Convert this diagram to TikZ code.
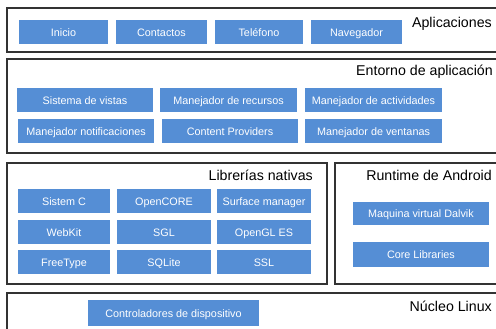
\documentclass[tikz,border=0pt]{standalone}
\usepackage{fontspec}
\setmainfont{Liberation Sans}
\definecolor{btn}{HTML}{558ED5}
\definecolor{frame}{HTML}{333333}
\begin{document}
\begin{tikzpicture}[x=1pt,y=-1pt,
  layer/.style={draw=frame,line width=1.3pt,fill=white},
  btnbox/.style={fill=btn,draw=none,text=white,font=\fontsize{10.8}{12}\selectfont,text height=0.85em,text depth=0em,inner sep=0pt},
  ttl/.style={font=\fontsize{14.2}{15}\selectfont,text=black,inner sep=0pt,text height=0.8em,text depth=0em}]
\useasboundingbox (0,0) rectangle (496,329);
\begin{scope}
\clip (0,0) rectangle (496,329);
% layer frames
\draw[layer] (7,8) rectangle (505,52);
\draw[layer] (7,59) rectangle (505,153);
\draw[layer] (7,163) rectangle (327,284);
\draw[layer] (335,163) rectangle (505,284);
\draw[layer] (7,293) rectangle (505,340);
\end{scope}
\newcommand{\btn}[6]{\fill[btn] (#2,#3) rectangle (#4,#5);
  \node[btnbox] (#1) at ({(#2+#4)/2},{(#3+#5)/2}) {#6};}
% Aplicaciones
\node[ttl,anchor=east] (tapp) at (492,24) {Aplicaciones};
\btn{inicio}{19}{20}{108}{44}{Inicio}
\btn{contactos}{116}{20}{207}{44}{Contactos}
\btn{telefono}{215}{20}{303}{44}{Teléfono}
\btn{navegador}{311}{20}{402}{44}{Navegador}
% Entorno
\node[ttl,anchor=east] (tent) at (493,72) {Entorno de aplicación};
\btn{vistas}{17}{88}{153}{112}{Sistema de vistas}
\btn{recursos}{160}{88}{297}{112}{Manejador de recursos}
\btn{actividades}{305}{88}{442}{112}{Manejador de actividades}
\btn{notif}{18}{119}{154}{143}{Manejador notificaciones}
\btn{content}{162}{119}{298}{143}{Content Providers}
\btn{ventanas}{305}{119}{442}{143}{Manejador de ventanas}
% Librerias
\node[ttl,anchor=east] (tlib) at (313,176) {Librerías nativas};
\btn{sistemc}{18}{189}{110}{213}{Sistem C}
\btn{opencore}{117}{189}{211}{213}{OpenCORE}
\btn{surface}{217}{189}{311}{213}{Surface manager}
\btn{webkit}{18}{220}{110}{244}{WebKit}
\btn{sgl}{117}{220}{211}{244}{SGL}
\btn{opengl}{217}{220}{311}{244}{OpenGL ES}
\btn{freetype}{18}{250}{110}{274}{FreeType}
\btn{sqlite}{117}{250}{211}{274}{SQLite}
\btn{ssl}{217}{250}{311}{274}{SSL}
% Runtime
\node[ttl,anchor=east] (trun) at (492,176) {Runtime de Android};
\btn{dalvik}{353}{202}{489}{225}{Maquina virtual Dalvik}
\btn{core}{353}{242}{489}{267}{Core Libraries}
% Nucleo
\node[ttl,anchor=east] (tnuc) at (492,307) {Núcleo Linux};
\btn{drivers}{88}{300}{259}{326}{Controladores de dispositivo}
\end{tikzpicture}
\end{document}
